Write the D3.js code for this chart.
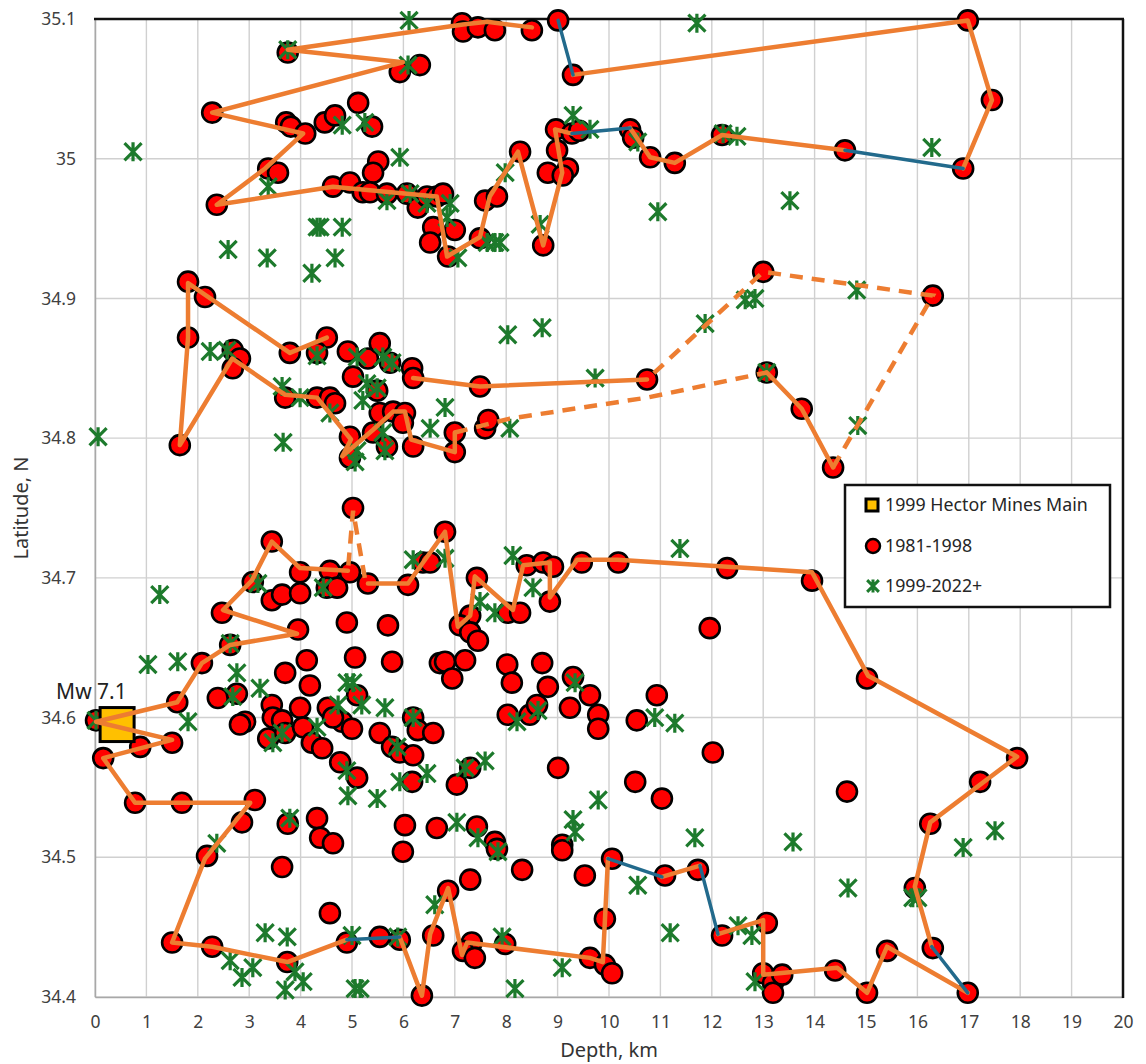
<!DOCTYPE html>
<html>
<head>
<meta charset="utf-8">
<script src="https://cdn.jsdelivr.net/npm/d3@7"></script>
<style>
  html, body { margin: 0; padding: 0; background: #fff; }
  svg { display: block; font-family: "Noto Sans", "Liberation Sans", sans-serif; }
</style>
</head>
<body>
<svg id="chart" width="1146" height="1064"></svg>
<script>
// Hector Mine area seismicity: depth (km) vs latitude (N)

// axis ticks
const depthTicks = d3.range(0, 21);
const latTicks = [34.4, 34.5, 34.6, 34.7, 34.8, 34.9, 35.0, 35.1];

// 1999 Hector Mine main shock [depth km, latitude]
const mainShock = [[0.43, 34.595]];
const mainShockLabel = "Mw 7.1";

// 1981-1998 events, northern cluster
const events8198North = [
  [3.75,35.076],[5.93,35.062],[6.32,35.067],[5.12,35.040],[2.28,35.033],[3.72,35.026],[3.81,35.023],
  [4.09,35.018],[4.47,35.026],[4.67,35.031],[5.39,35.023],[5.51,34.998],[5.41,34.990],[3.37,34.993],
  [3.56,34.990],[2.37,34.967],[4.63,34.980],[4.96,34.983],[5.21,34.976],[5.35,34.976],[5.68,34.975],
  [6.07,34.975],[6.28,34.965],[6.46,34.973],[6.58,34.951],[6.52,34.940],[7.14,35.097],[7.16,35.091],
  [7.45,35.094],[7.78,35.092],[8.50,35.092],[9.01,35.099],[9.30,35.060],[8.97,35.021],[9.28,35.018],
  [9.42,35.020],[8.99,35.006],[8.81,34.990],[9.20,34.993],[9.10,34.988],[8.27,35.005],[7.59,34.970],
  [7.82,34.973],[10.41,35.021],[10.47,35.015],[10.80,35.001],[11.28,34.997],[12.20,35.017],[8.72,34.938],
  [7.49,34.943],[6.87,34.930],[6.65,34.973],[6.77,34.975],[7.00,34.949],[16.98,35.099],[17.45,35.042],
  [14.59,35.006],[16.89,34.993]
];

// 1981-1998 events, middle cluster
const events8198Middle = [
  [1.81,34.912],[2.14,34.901],[1.81,34.872],[1.65,34.795],[2.68,34.863],[2.82,34.857],[2.68,34.850],
  [3.79,34.861],[4.51,34.872],[4.32,34.861],[4.92,34.862],[5.31,34.857],[5.54,34.868],[5.74,34.854],
  [6.17,34.850],[6.19,34.843],[5.02,34.844],[5.49,34.834],[3.70,34.829],[4.32,34.829],[4.57,34.829],
  [4.67,34.825],[5.54,34.818],[5.80,34.819],[6.03,34.818],[5.99,34.811],[4.96,34.801],[5.41,34.804],
  [4.96,34.786],[5.68,34.794],[6.19,34.794],[7.49,34.837],[10.74,34.842],[13.00,34.919],[13.07,34.847],
  [7.00,34.804],[7.00,34.790],[7.59,34.807],[7.65,34.813],[16.30,34.902],[13.75,34.821],[14.36,34.779]
];

// 1981-1998 events, southern cluster
const events8198South = [
  [5.02,34.750],[3.44,34.726],[3.99,34.704],[4.57,34.705],[4.96,34.704],[3.07,34.697],[3.44,34.684],
  [3.64,34.688],[3.99,34.689],[4.51,34.693],[4.71,34.693],[5.31,34.696],[6.09,34.695],[6.38,34.711],
  [2.47,34.675],[3.95,34.663],[4.90,34.668],[5.70,34.666],[2.63,34.652],[2.08,34.639],[4.12,34.641],
  [5.06,34.643],[5.78,34.640],[6.71,34.639],[3.70,34.632],[4.18,34.623],[2.39,34.614],[2.76,34.617],
  [5.10,34.616],[3.44,34.609],[3.99,34.607],[4.53,34.607],[1.60,34.611],[2.92,34.597],[2.82,34.595],
  [3.46,34.600],[3.64,34.598],[3.37,34.585],[3.70,34.589],[4.05,34.593],[4.22,34.582],[4.42,34.578],
  [4.81,34.597],[5.00,34.592],[4.63,34.600],[5.54,34.589],[5.78,34.579],[5.93,34.575],[6.19,34.573],
  [6.19,34.600],[6.28,34.591],[6.58,34.589],[0.88,34.579],[1.50,34.582],[0.16,34.571],[4.77,34.568],
  [5.10,34.557],[6.17,34.554],[0.78,34.539],[1.69,34.539],[3.11,34.541],[2.86,34.525],[3.75,34.524],
  [4.32,34.528],[4.38,34.514],[4.63,34.510],[6.03,34.523],[6.65,34.521],[2.18,34.501],[5.99,34.504],
  [3.64,34.493],[4.57,34.460],[1.50,34.439],[2.28,34.436],[3.74,34.425],[4.90,34.439],[5.54,34.443],
  [5.93,34.441],[6.36,34.401],[6.58,34.444],[0.02,34.598],
  [6.81,34.733],[6.52,34.711],[7.43,34.700],[7.30,34.673],[7.10,34.666],[7.30,34.661],[7.45,34.655],
  [8.03,34.675],[8.27,34.675],[8.40,34.709],[8.72,34.711],[8.91,34.708],[9.47,34.711],[10.18,34.711],
  [12.30,34.707],[8.85,34.683],[11.96,34.664],[6.81,34.640],[6.95,34.628],[7.20,34.641],[8.02,34.638],
  [8.11,34.625],[8.70,34.639],[8.81,34.622],[9.30,34.629],[9.63,34.616],[8.03,34.602],[8.46,34.602],
  [8.60,34.609],[9.24,34.607],[9.79,34.602],[9.79,34.592],[10.93,34.616],[10.54,34.598],[12.02,34.575],
  [9.01,34.564],[10.51,34.554],[11.03,34.542],[7.30,34.564],[7.04,34.552],[7.43,34.522],[7.78,34.511],
  [7.82,34.506],[9.09,34.509],[9.09,34.505],[8.31,34.491],[9.53,34.487],[7.30,34.484],[10.06,34.499],
  [11.09,34.487],[11.73,34.491],[6.87,34.476],[9.92,34.456],[7.33,34.439],[7.16,34.433],[7.39,34.428],
  [7.98,34.438],[9.63,34.428],[9.92,34.423],[10.06,34.417],[12.20,34.444],[13.07,34.453],[13.00,34.417],
  [13.19,34.410],[13.19,34.403],[13.37,34.416],
  [13.95,34.698],[15.02,34.628],[17.94,34.571],[17.22,34.554],[14.63,34.547],[16.25,34.524],
  [15.95,34.478],[16.30,34.435],[15.41,34.433],[14.40,34.419],[15.02,34.403],[16.98,34.403]
];

// 1999-2022+ events
const events9922 = [
  [3.75,35.078],[6.09,35.067],[6.11,35.099],[0.74,35.005],[4.81,35.024],[5.25,35.026],[5.93,35.001],
  [3.37,34.980],[5.68,34.970],[6.13,34.975],[6.46,34.968],[4.32,34.951],[4.38,34.951],[4.81,34.951],
  [2.59,34.935],[3.35,34.929],[4.67,34.929],[4.22,34.918],[11.71,35.097],[9.30,35.031],[9.63,35.021],
  [10.56,35.012],[12.22,35.018],[12.49,35.016],[7.98,34.990],[10.95,34.962],[6.91,34.968],[6.85,34.958],
  [8.66,34.953],[7.63,34.940],[7.78,34.940],[7.88,34.940],[7.06,34.929],[16.28,35.008],[13.52,34.970],
  [2.24,34.862],[2.57,34.863],[4.32,34.859],[5.10,34.858],[5.60,34.858],[5.78,34.854],[5.29,34.839],
  [5.21,34.827],[5.49,34.836],[3.64,34.837],[3.99,34.829],[4.57,34.818],[5.60,34.804],[5.10,34.791],
  [5.06,34.783],[5.64,34.791],[6.52,34.807],[0.06,34.801],[3.66,34.797],[8.03,34.874],[8.70,34.879],
  [11.87,34.882],[12.65,34.899],[12.84,34.900],[9.73,34.843],[13.07,34.847],[6.81,34.822],[8.07,34.807],
  [14.82,34.906],[14.84,34.809],
  [1.26,34.688],[3.17,34.696],[4.44,34.693],[6.19,34.713],[2.63,34.653],[1.03,34.638],[1.61,34.640],
  [2.76,34.632],[2.68,34.615],[3.21,34.621],[1.81,34.597],[4.90,34.625],[5.02,34.625],[4.73,34.609],
  [5.19,34.609],[5.64,34.607],[6.19,34.600],[4.32,34.593],[3.64,34.589],[3.46,34.582],[5.88,34.579],
  [5.93,34.554],[6.46,34.560],[4.92,34.544],[5.49,34.542],[4.90,34.562],[3.79,34.528],[2.37,34.510],
  [6.61,34.466],[3.31,34.446],[3.74,34.443],[2.63,34.426],[3.07,34.421],[2.86,34.414],[3.70,34.405],
  [3.89,34.418],[4.05,34.411],[5.06,34.406],[5.16,34.406],[5.00,34.444],[5.89,34.443],[0.02,34.598],
  [6.81,34.714],[8.13,34.716],[8.52,34.693],[7.49,34.683],[7.78,34.675],[11.38,34.721],[9.34,34.625],
  [8.62,34.605],[8.21,34.597],[10.89,34.600],[11.28,34.596],[7.59,34.569],[7.20,34.564],[9.79,34.541],
  [9.30,34.527],[9.34,34.518],[7.04,34.525],[7.45,34.514],[7.84,34.504],[11.67,34.514],[10.56,34.480],
  [11.19,34.446],[7.92,34.443],[9.09,34.421],[8.17,34.406],[12.51,34.451],[12.78,34.444],[12.84,34.411],
  [13.58,34.511],[14.65,34.478],[16.89,34.507],[17.51,34.519],[15.91,34.471],[16.01,34.471]
];

// Outline traces: solid orange, blue connectors, dashed orange
const outlineSolid = [
  [[8.50,35.094],[7.63,35.098],[7.16,35.096],[3.75,35.078],[5.99,35.069],[2.28,35.033],[4.05,35.018],
   [3.31,34.993],[2.37,34.967],[4.63,34.980],[6.07,34.975],[6.65,34.973],[6.85,34.930],[7.49,34.944],
   [7.68,34.973],[8.23,35.005],[8.72,34.938],[9.09,34.990],[8.95,35.021],[9.28,35.018]],
  [[10.41,35.022],[10.80,35.001],[11.28,34.997],[12.20,35.017],[14.59,35.006]],
  [[16.89,34.993],[17.45,35.042],[16.98,35.099],[9.30,35.060]],
  [[4.51,34.872],[3.79,34.861],[1.81,34.911],[1.81,34.872],[1.65,34.795],[2.67,34.857],[3.70,34.831],
   [4.32,34.829],[4.98,34.799],[4.81,34.787],[5.41,34.806],[5.80,34.819],[6.03,34.819],[6.15,34.799],
   [7.00,34.790],[7.00,34.804]],
  [[13.07,34.847],[13.75,34.821],[14.36,34.779]],
  [[10.74,34.842],[7.49,34.837],[6.19,34.843]],
  [[4.92,34.705],[3.99,34.707],[3.44,34.726],[3.05,34.698],[2.49,34.677],[3.93,34.660],[2.63,34.652],
   [2.08,34.639],[1.60,34.611],[0.02,34.597],[1.50,34.584],[0.16,34.571],[0.78,34.539],[3.02,34.539],
   [2.14,34.499],[1.50,34.439],[2.28,34.436],[3.74,34.425],[4.90,34.441]],
  [[5.93,34.443],[6.36,34.401],[6.52,34.445],[6.87,34.478],[7.14,34.430],[7.24,34.439],[9.63,34.428],
   [9.88,34.425],[9.98,34.499]],
  [[11.03,34.486],[11.77,34.494]],
  [[12.12,34.445],[13.00,34.455],[13.00,34.416],[14.44,34.421],[15.02,34.403],[15.41,34.436],[16.98,34.403]],
  [[16.28,34.436],[15.95,34.479],[16.25,34.525],[17.94,34.572],[15.04,34.630],[13.95,34.704],[12.30,34.708],
   [10.16,34.713],[9.38,34.713],[8.85,34.686],[8.85,34.711],[8.33,34.709],[8.13,34.677],[7.39,34.701],
   [7.30,34.673],[7.06,34.665],[6.81,34.733],[6.09,34.696],[5.31,34.696]]
];
const outlineBlue = [
  [[9.28,35.018],[10.41,35.022]],
  [[14.59,35.006],[16.89,34.993]],
  [[9.30,35.060],[9.01,35.099]],
  [[4.90,34.441],[5.93,34.443]],
  [[9.98,34.499],[11.03,34.486]],
  [[11.77,34.494],[12.12,34.445]],
  [[16.98,34.403],[16.28,34.436]]
];
const outlineDashed = [
  [[7.00,34.804],[8.07,34.814],[10.74,34.829],[13.07,34.847]],
  [[14.36,34.779],[16.30,34.902],[13.00,34.919],[10.74,34.842]],
  [[5.25,34.700],[5.02,34.748],[4.92,34.705]]
];

// Legend entries
const legendLabels = ["1999 Hector Mines Main", "1981-1998", "1999-2022+"];

// ---- layout ----
const W = 1146, H = 1064;
const margin = { left: 95, top: 19, right: 23, bottom: 67 };
const svg = d3.select("#chart");
svg.append("rect").attr("width", W).attr("height", H).attr("fill", "#fff");

const x = d3.scaleLinear().domain([0, 20]).range([margin.left, W - margin.right]);
const y = d3.scaleLinear().domain([34.4, 35.1]).range([H - margin.bottom, margin.top]);

const x0 = x.range()[0], x1 = x.range()[1], y0 = y.range()[0], y1 = y.range()[1];

// gridlines
const grid = svg.append("g");
grid.selectAll(".vg").data(depthTicks).join("line")
  .attr("x1", d => x(d)).attr("x2", d => x(d)).attr("y1", y1).attr("y2", y0)
  .attr("stroke", "#d0d0d0").attr("stroke-width", 1.4);
grid.selectAll(".hg").data(latTicks).join("line")
  .attr("x1", x0).attr("x2", x1).attr("y1", d => y(d)).attr("y2", d => y(d))
  .attr("stroke", "#d0d0d0").attr("stroke-width", 1.4);

// axes
const fmtLat = d => String(+d.toFixed(1));
const xAxis = svg.append("g").attr("transform", `translate(0,${y0})`)
  .call(d3.axisBottom(x).tickValues(depthTicks).tickSize(0).tickPadding(19).tickFormat(d => d));
const yAxis = svg.append("g").attr("transform", `translate(${x0},0)`)
  .call(d3.axisLeft(y).tickValues(latTicks).tickSize(0).tickPadding(19).tickFormat(fmtLat));
[xAxis, yAxis].forEach(a => {
  a.select(".domain").attr("stroke", "#a8a8a8").attr("stroke-width", 1.5);
  a.selectAll("text").attr("font-size", 17.5).attr("fill", "#404040")
    .attr("font-family", "'Noto Sans', sans-serif");
});

// frame top and right
svg.append("line").attr("x1", x0 - 1).attr("x2", x1 + 1).attr("y1", y1).attr("y2", y1)
  .attr("stroke", "#111").attr("stroke-width", 2.5);
svg.append("line").attr("x1", x1).attr("x2", x1).attr("y1", y1).attr("y2", y0 + 1)
  .attr("stroke", "#111").attr("stroke-width", 2.5);

// axis titles
svg.append("text").attr("x", (x0 + x1) / 2).attr("y", 1057).attr("text-anchor", "middle")
  .attr("font-size", 20).attr("fill", "#333").text("Depth, km");
svg.append("text").attr("transform", `translate(28,${(y0 + y1) / 2}) rotate(-90)`)
  .attr("text-anchor", "middle").attr("font-size", 20).attr("fill", "#333").text("Latitude, N");

// marker shapes
const starPath = s => `M0,${-s}V${s}M${-s * 0.9},${-s * 0.9}L${s * 0.9},${s * 0.9}M${s * 0.9},${-s * 0.9}L${-s * 0.9},${s * 0.9}`;
const RED = "#ff0000", GREEN = "#1d7a2c", ORANGE = "#ed7d31", BLUE = "#226a8c", GOLD = "#ffc000";

// 1981-1998 circles
const plot = svg.append("g");
const allOld = events8198North.concat(events8198Middle, events8198South);
plot.selectAll("circle.old").data(allOld).join("circle")
  .attr("cx", d => x(d[0])).attr("cy", d => y(d[1])).attr("r", 10)
  .attr("fill", RED).attr("stroke", "#000").attr("stroke-width", 2.6);

// 1999-2022+ stars
plot.selectAll("path.new").data(events9922).join("path")
  .attr("transform", d => `translate(${x(d[0])},${y(d[1])})`)
  .attr("d", starPath(9.5)).attr("fill", "none")
  .attr("stroke", GREEN).attr("stroke-width", 3.2);

// main shock square
plot.selectAll("rect.main").data(mainShock).join("rect")
  .attr("x", d => x(d[0]) - 17).attr("y", d => y(d[1]) - 17)
  .attr("width", 34).attr("height", 34)
  .attr("fill", GOLD).attr("stroke", "#000").attr("stroke-width", 3);

// outline traces
const line = d3.line().x(d => x(d[0])).y(d => y(d[1]));
plot.selectAll("path.solid").data(outlineSolid).join("path")
  .attr("d", line).attr("fill", "none").attr("stroke", ORANGE)
  .attr("stroke-width", 4.5).attr("stroke-linejoin", "round").attr("stroke-linecap", "round");
plot.selectAll("path.dash").data(outlineDashed).join("path")
  .attr("d", line).attr("fill", "none").attr("stroke", ORANGE)
  .attr("stroke-width", 4.5).attr("stroke-dasharray", "13,9");
plot.selectAll("path.blue").data(outlineBlue).join("path")
  .attr("d", line).attr("fill", "none").attr("stroke", BLUE)
  .attr("stroke-width", 3.5).attr("stroke-linecap", "round");

// main shock annotation
svg.append("text").attr("x", x(mainShock[0][0]) - 61).attr("y", y(mainShock[0][1]) - 26)
  .attr("font-size", 21).attr("fill", "#222").text(mainShockLabel);

// legend
const lg = svg.append("g").attr("transform", "translate(845,485)");
lg.append("rect").attr("width", 265).attr("height", 122).attr("fill", "#fff")
  .attr("stroke", "#111").attr("stroke-width", 2.5);
const rowY = [20, 61, 101];
lg.append("rect").attr("x", 21).attr("y", rowY[0] - 6).attr("width", 12).attr("height", 12)
  .attr("fill", GOLD).attr("stroke", "#000").attr("stroke-width", 3);
lg.append("circle").attr("cx", 28).attr("cy", rowY[1]).attr("r", 7)
  .attr("fill", RED).attr("stroke", "#000").attr("stroke-width", 2.5);
lg.append("path").attr("transform", `translate(28,${rowY[2]})`).attr("d", starPath(6.5))
  .attr("fill", "none").attr("stroke", GREEN).attr("stroke-width", 3);
lg.selectAll("text").data(legendLabels).join("text")
  .attr("x", 40).attr("y", (d, i) => rowY[i]).attr("dy", "0.35em")
  .attr("font-size", 17.8).attr("fill", "#262626").text(d => d);
</script>
</body>
</html>
